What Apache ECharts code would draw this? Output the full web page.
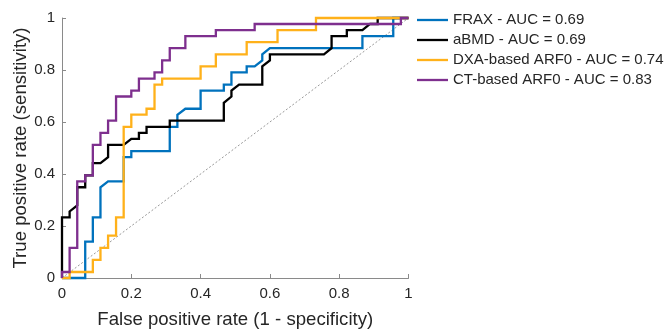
<!DOCTYPE html>
<html>
<head>
<meta charset="utf-8">
<script src="https://cdn.jsdelivr.net/npm/echarts@6/dist/echarts.min.js"></script>
<style>
  html, body { margin: 0; padding: 0; background: #fff; }
  #chart { width: 666px; height: 329px; }
</style>
</head>
<body>
<div id="chart"></div>
<script>
// ROC curves: [false positive rate, true positive rate] vertices
const fraxRoc = [[0,0],[0.067,0],[0.067,0.14],[0.089,0.14],[0.089,0.233],[0.111,0.233],[0.111,0.349],[0.133,0.372],[0.178,0.372],[0.178,0.465],[0.2,0.465],[0.2,0.488],[0.311,0.488],[0.311,0.581],[0.333,0.581],[0.333,0.628],[0.356,0.651],[0.4,0.651],[0.4,0.721],[0.467,0.721],[0.467,0.744],[0.489,0.744],[0.489,0.791],[0.533,0.791],[0.533,0.814],[0.556,0.814],[0.578,0.837],[0.578,0.86],[0.6,0.884],[0.867,0.884],[0.867,0.93],[0.956,0.93],[0.956,1],[1,1]];
const abmdRoc = [[0,0],[0,0.233],[0.022,0.233],[0.022,0.256],[0.044,0.279],[0.044,0.349],[0.067,0.349],[0.067,0.395],[0.089,0.395],[0.089,0.442],[0.111,0.442],[0.133,0.465],[0.133,0.512],[0.178,0.512],[0.2,0.535],[0.222,0.535],[0.222,0.558],[0.244,0.558],[0.244,0.581],[0.311,0.581],[0.311,0.605],[0.467,0.605],[0.467,0.674],[0.489,0.698],[0.489,0.721],[0.511,0.744],[0.578,0.744],[0.578,0.814],[0.6,0.837],[0.6,0.86],[0.756,0.86],[0.778,0.884],[0.778,0.93],[0.822,0.93],[0.822,0.953],[0.867,0.953],[0.889,0.977],[0.911,0.977],[0.911,1],[1,1]];
const dxaArf0Roc = [[0,0],[0.022,0],[0.022,0.023],[0.089,0.023],[0.089,0.07],[0.111,0.07],[0.111,0.116],[0.133,0.116],[0.133,0.163],[0.156,0.163],[0.156,0.233],[0.178,0.233],[0.178,0.581],[0.2,0.581],[0.2,0.628],[0.244,0.628],[0.244,0.651],[0.267,0.651],[0.267,0.744],[0.289,0.744],[0.289,0.767],[0.4,0.767],[0.4,0.814],[0.444,0.814],[0.444,0.86],[0.533,0.86],[0.533,0.907],[0.622,0.907],[0.622,0.953],[0.733,0.953],[0.733,1],[1,1]];
const ctArf0Roc = [[0,0],[0,0.023],[0.022,0.023],[0.022,0.116],[0.044,0.116],[0.044,0.372],[0.067,0.372],[0.067,0.395],[0.089,0.395],[0.089,0.512],[0.111,0.512],[0.111,0.558],[0.133,0.558],[0.133,0.605],[0.156,0.605],[0.156,0.698],[0.2,0.698],[0.2,0.721],[0.222,0.721],[0.222,0.767],[0.267,0.767],[0.267,0.791],[0.289,0.791],[0.289,0.837],[0.311,0.837],[0.311,0.884],[0.356,0.884],[0.356,0.93],[0.444,0.93],[0.444,0.953],[0.556,0.953],[0.556,0.977],[0.978,0.977],[0.978,1],[1,1]];
const chanceLine = [[0,0],[1,1]];

const seriesNames = ['FRAX', 'aBMD', 'DXA-based ARF0', 'CT-based ARF0'];
const aucValues = ['0.69', '0.69', '0.74', '0.83'];
const seriesColors = ['#0072BD', '#000000', '#FFB11A', '#7E2F8E'];
const rocData = [fraxRoc, abmdRoc, dxaArf0Roc, ctArf0Roc];

const labels = seriesNames.map((n, i) => n + ' - AUC = ' + aucValues[i]);
const font = 'Liberation Sans, Arial, Helvetica, sans-serif';
const textColor = '#262626';
const axisColor = '#8a8a8a';

const chart = echarts.init(document.getElementById('chart'), null, { renderer: 'canvas' });

const series = [{
  type: 'line',
  data: chanceLine,
  showSymbol: false,
  silent: true,
  clip: false,
  lineStyle: { color: '#9a9a9a', width: 1, type: [2, 2] },
  z: 1
}].concat(rocData.map((d, i) => ({
  name: labels[i],
  type: 'line',
  data: d,
  showSymbol: false,
  clip: false,
  color: seriesColors[i],
  lineStyle: { color: seriesColors[i], width: 2.3, join: 'miter' },
  z: 2 + i
})));

chart.setOption({
  animation: false,
  backgroundColor: '#ffffff',
  grid: { left: 62, right: 257.5, top: 18, bottom: 51, containLabel: false, outerBoundsMode: 'none' },
  legend: {
    data: labels,
    orient: 'vertical',
    left: 417,
    top: 12.5,
    padding: 0,
    icon: 'rect',
    itemWidth: 31,
    itemHeight: 2.3,
    itemGap: 5,
    textStyle: { fontSize: 15, lineHeight: 15, color: textColor, fontFamily: font }
  },
  xAxis: {
    type: 'value',
    min: 0, max: 1, interval: 0.2,
    name: 'False positive rate (1 - specificity)',
    nameLocation: 'middle',
    nameGap: 32,
    nameMoveOverlap: false,
    nameTextStyle: { fontSize: 18.6, color: textColor, fontFamily: font },
    axisLine: { show: true, lineStyle: { color: axisColor, width: 1 } },
    axisTick: { show: true, inside: true, length: 4, lineStyle: { color: axisColor } },
    axisLabel: { fontSize: 15, color: textColor, fontFamily: font, margin: 8 },
    splitLine: { show: false }
  },
  yAxis: {
    type: 'value',
    min: 0, max: 1, interval: 0.2,
    name: 'True positive rate (sensitivity)',
    nameLocation: 'middle',
    nameGap: 32,
    nameMoveOverlap: false,
    nameTextStyle: { fontSize: 18.6, color: textColor, fontFamily: font },
    axisLine: { show: true, lineStyle: { color: axisColor, width: 1 } },
    axisTick: { show: true, inside: true, length: 4, lineStyle: { color: axisColor } },
    axisLabel: { fontSize: 15, color: textColor, fontFamily: font, margin: 7 },
    splitLine: { show: false }
  },
  series: series
});
</script>
</body>
</html>
